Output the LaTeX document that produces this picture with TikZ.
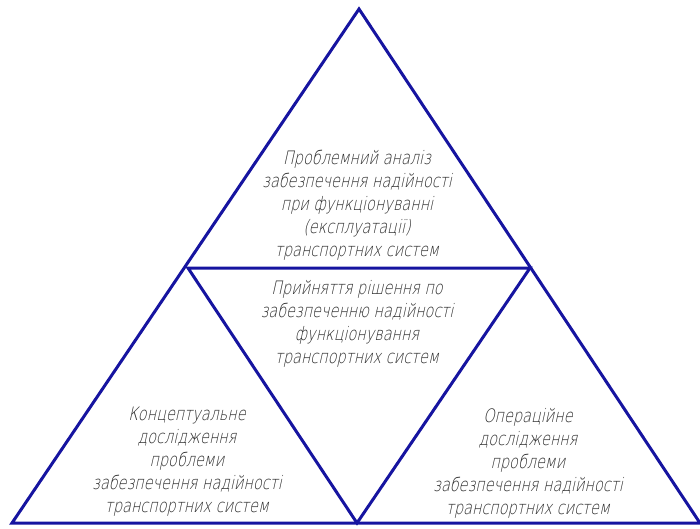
\documentclass[tikz,border=0pt]{standalone}
\usepackage{fontspec}
\newfontfamily\gost{DejaVu Sans ExtraLight}[FakeSlant=0.22, FakeStretch=0.78]
\definecolor{lineblue}{RGB}{22,20,160}
\definecolor{txtgray}{RGB}{45,45,45}
\begin{document}
\begin{tikzpicture}[x=1pt,y=-1pt,
  edge/.style={draw=lineblue, line width=3pt, line join=miter},
  label/.style={align=center, text=txtgray, font=\gost\fontsize{18.5}{23}\selectfont, inner sep=0pt}]
\useasboundingbox (0,0) rectangle (700,528);
\coordinate (A) at (359,9);
\coordinate (L) at (12,523);
\coordinate (R) at (700,523);
\coordinate (ML) at (188,268);
\coordinate (MR) at (530,268);
\coordinate (MB) at (357,523);
\draw[edge] (A) -- (L) -- (R) -- cycle;
\draw[edge] (ML) -- (MR) -- (MB) -- cycle;
\node[label] (top) at (357,205) {Проблемний аналіз\\забезпечення надійності\\при функціонуванні\\(експлуатації)\\транспортних систем};
\node[label] (mid) at (357,324) {Прийняття рішення по\\забезпеченню надійності\\функціонування\\транспортних систем};
\node[label] (left) at (187,462) {Концептуальне\\дослідження\\проблеми\\забезпечення надійності\\транспортних систем};
\node[label] (right) at (528,463) {Операційне\\дослідження\\проблеми\\забезпечення надійності\\транспортних систем};
\end{tikzpicture}
\end{document}
